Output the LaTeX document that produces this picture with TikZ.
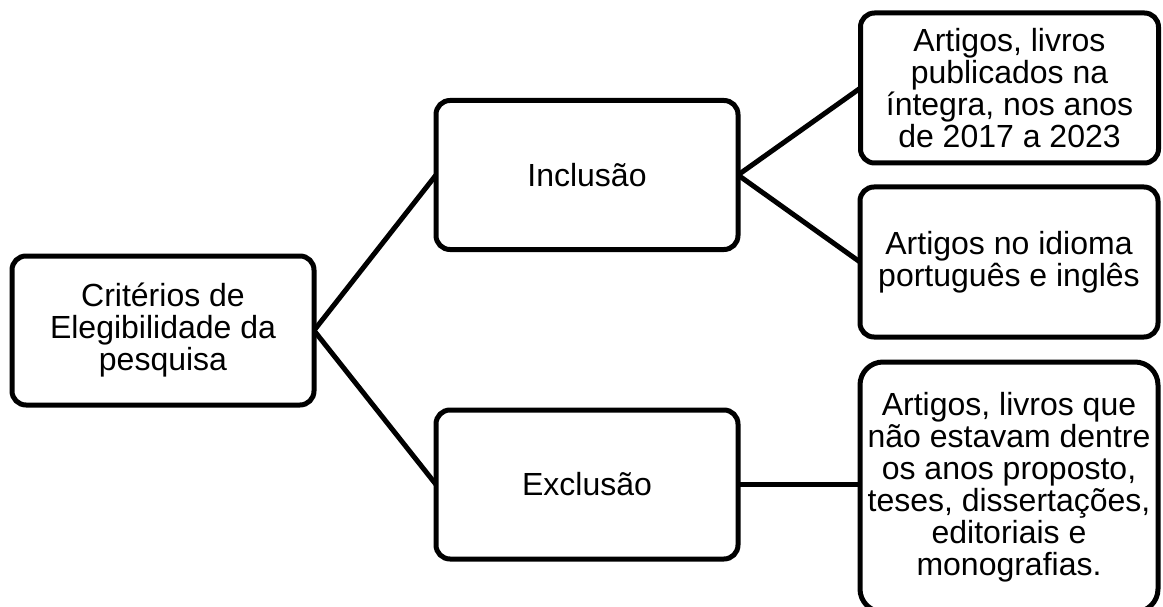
\documentclass[tikz,border=0pt]{standalone}
\usepackage{fontspec}
\setmainfont{Liberation Sans}
\begin{document}
\begin{tikzpicture}[x=1pt,y=-1pt,
  box/.style={draw=black, line width=5pt, fill=white, rounded corners=14pt,
    minimum width=302pt, minimum height=149pt, inner sep=0pt, outer sep=0pt,
    align=center, font=\fontsize{32}{32}\selectfont},
  rbox/.style={box, minimum width=298pt},
  link/.style={draw=black, line width=5pt}]
\useasboundingbox (0,0) rectangle (1163,607);
\node[box] (crit) at (163,330.5) {Critérios de\\Elegibilidade da\\pesquisa};
\node[box] (inc) at (587,175) {Inclusão};
\node[box] (exc) at (587,484.5) {Exclusão};
\node[rbox, minimum height=150pt] (r1) at (1009.5,88) {Artigos, livros\\publicados na\\íntegra, nos anos\\de 2017 a 2023};
\node[rbox, minimum height=150pt] (r2) at (1009,262) {Artigos no idioma\\português e inglês};
\node[rbox, minimum height=250pt, rounded corners=23pt] (r3) at (1009,487) {Artigos, livros que\\não estavam dentre\\os anos proposto,\\teses, dissertações,\\editoriais e\\monografias.};
\draw[link] (crit.east) -- (inc.west);
\draw[link] (crit.east) -- (exc.west);
\draw[link] (inc.east) -- (r1.west);
\draw[link] (inc.east) -- (r2.west);
\draw[link] (exc.east) -- (r3.west |- exc.east);
\end{tikzpicture}
\end{document}
